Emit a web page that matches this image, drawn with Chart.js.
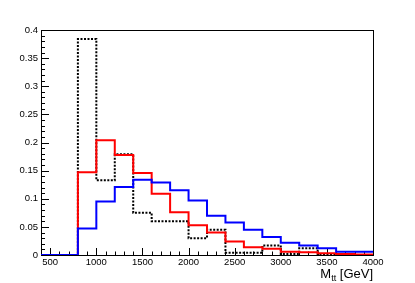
<!DOCTYPE html>
<html>
<head>
<meta charset="utf-8">
<script src="https://cdn.jsdelivr.net/npm/chart.js@4.4.1/dist/chart.umd.min.js"></script>
<style>
  html, body { margin: 0; padding: 0; background: #fff; }
  #wrap { width: 415px; height: 283px; }
</style>
</head>
<body>
<div id="wrap"><canvas id="chart" width="415" height="283"></canvas></div>
<script>
// bin edges of the histograms (GeV), 200 GeV wide
const binEdges = [400, 600, 800, 1000, 1200, 1400, 1600, 1800, 2000, 2200,
                  2400, 2600, 2800, 3000, 3200, 3400, 3600, 3800, 4000];

// bin contents, one per bin
const redValues = [0, 0, 0.147, 0.204, 0.178, 0.146, 0.109, 0.076, 0.053, 0.040,
                   0.024, 0.014, 0.011, 0.006, 0.005, 0.003, 0.002, 0.001];
const blueValues = [0, 0, 0.047, 0.095, 0.121, 0.134, 0.129, 0.115, 0.097, 0.070,
                    0.058, 0.045, 0.032, 0.022, 0.017, 0.012, 0.006, 0.006];
const blackValues = [0, 0, 0.384, 0.133, 0.179, 0.075, 0.060, 0.060, 0.030, 0.045,
                     0.004, 0.004, 0.017, 0.002, 0.012, 0, 0, 0];

const xTickLabels = [500, 1000, 1500, 2000, 2500, 3000, 3500, 4000];
const yTickLabels = ["0", "0.05", "0.1", "0.15", "0.2", "0.25", "0.3", "0.35", "0.4"];
const xMinorStep = 100;
const yMinorStep = 0.01;

const FONT = '"Liberation Sans", Arial, Helvetica, sans-serif';

// histogram outline: each bin's value is held from its low edge to the next edge
function histPoints(values) {
  const pts = values.map((v, i) => ({ x: binEdges[i], y: v }));
  pts.push({ x: binEdges[binEdges.length - 1], y: values[values.length - 1] });
  return pts;
}

// ROOT-like frame with inward ticks
const framePlugin = {
  id: 'frame',
  beforeDatasetsDraw(chart) {
    const { ctx, chartArea: a, scales: { x, y } } = chart;
    ctx.save();
    ctx.strokeStyle = '#000';
    ctx.lineWidth = 1;
    ctx.strokeRect(a.left + 0.5, a.top + 0.5, a.right - a.left, a.bottom - a.top);
    ctx.beginPath();
    // x ticks
    for (let v = x.min; v <= x.max + 1e-9; v += xMinorStep) {
      const px = Math.round(x.getPixelForValue(v)) + 0.5;
      const len = (Math.round(v) % 500 === 0) ? 7 : 3.5;
      ctx.moveTo(px, a.bottom);
      ctx.lineTo(px, a.bottom - len);
    }
    // y ticks
    const nMinor = Math.round((y.max - y.min) / yMinorStep);
    for (let i = 0; i <= nMinor; i++) {
      const v = y.min + i * yMinorStep;
      const py = Math.round(y.getPixelForValue(v)) + 0.5;
      const len = (i % 5 === 0) ? 8 : 4;
      ctx.moveTo(a.left, py);
      ctx.lineTo(a.left + len, py);
    }
    ctx.stroke();
    ctx.restore();
  },
  afterDraw(chart) {
    const { ctx, chartArea: a } = chart;
    ctx.save();
    ctx.fillStyle = '#000';
    ctx.textAlign = 'right';
    ctx.textBaseline = 'alphabetic';
    const base = 278;
    let xr = a.right;
    ctx.font = '13px ' + FONT;
    ctx.fillText(' [GeV]', xr, base);
    xr -= ctx.measureText(' [GeV]').width;
    ctx.font = '9px ' + FONT;
    ctx.fillText('tt', xr, base + 3);
    xr -= ctx.measureText('tt').width;
    ctx.font = '13px ' + FONT;
    ctx.fillText('M', xr, base);
    ctx.restore();
  }
};

new Chart(document.getElementById('chart'), {
  type: 'line',
  data: {
    datasets: [
      {
        label: 'blue',
        data: histPoints(blueValues),
        borderColor: '#0000ff',
        borderWidth: 2,
        stepped: 'before',
        pointRadius: 0,
        fill: false
      },
      {
        label: 'red',
        data: histPoints(redValues),
        borderColor: '#ff0000',
        borderWidth: 2,
        stepped: 'before',
        pointRadius: 0,
        fill: false
      },
      {
        label: 'black',
        data: histPoints(blackValues),
        borderColor: '#000000',
        borderWidth: 2,
        borderDash: [2, 1.5],
        stepped: 'before',
        pointRadius: 0,
        fill: false
      }
    ]
  },
  options: {
    responsive: false,
    animation: false,
    layout: { padding: { left: 0, top: 30, right: 42, bottom: 0 } },
    plugins: { legend: { display: false }, tooltip: { enabled: false } },
    scales: {
      x: {
        type: 'linear',
        min: binEdges[0],
        max: binEdges[binEdges.length - 1],
        grid: { display: false, drawTicks: false },
        border: { display: false },
        afterBuildTicks: s => { s.ticks = xTickLabels.map(v => ({ value: v })); },
        afterFit: s => { s.height = 28; },
        ticks: {
          autoSkip: false,
          maxRotation: 0,
          padding: 2,
          color: '#000',
          font: { family: FONT, size: 9.5 },
          callback: v => String(v)
        }
      },
      y: {
        min: 0,
        max: 0.4,
        grid: { display: false, drawTicks: false },
        border: { display: false },
        afterBuildTicks: s => { s.ticks = yTickLabels.map(t => ({ value: parseFloat(t) })); },
        afterFit: s => { s.width = 41; },
        ticks: {
          autoSkip: false,
          padding: 3,
          color: '#000',
          font: { family: FONT, size: 9.5 },
          callback: (v, i) => yTickLabels[i]
        }
      }
    }
  },
  plugins: [framePlugin]
});
</script>
</body>
</html>
